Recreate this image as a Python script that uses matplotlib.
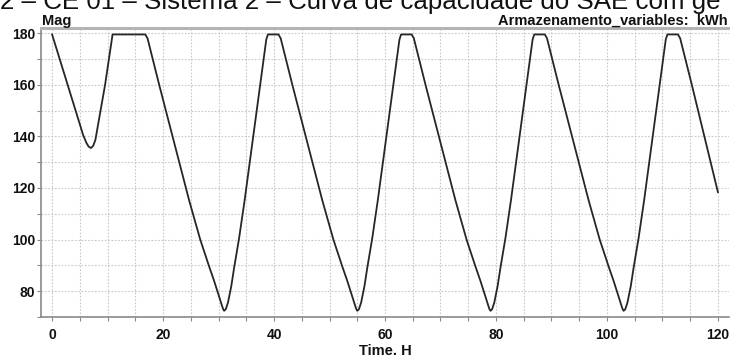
import matplotlib
matplotlib.use("Agg")
import matplotlib.pyplot as plt
from matplotlib.ticker import MultipleLocator

# Data (hours, kWh)
time_h = [0.0, 5.6, 6.2, 6.6, 7.0, 7.4, 7.8, 9.55, 10.9,
          16.8, 17.2, 19.3, 24.7, 26.7, 27.5, 28.3, 29.2, 30.0, 30.5, 30.8, 31.0, 31.3, 31.7, 32.3, 32.8, 33.7, 34.7, 38.6, 38.9,
          40.8, 41.2, 43.3, 48.7, 50.7, 51.5, 52.3, 53.2, 54.0, 54.5, 54.8, 55.0, 55.3, 55.7, 56.3, 56.8, 57.7, 58.7, 62.6, 62.9,
          64.8, 65.2, 67.3, 72.7, 74.7, 75.5, 76.3, 77.2, 78.0, 78.5, 78.8, 79.0, 79.3, 79.7, 80.3, 80.8, 81.7, 82.7, 86.6, 86.9,
          88.8, 89.2, 91.3, 96.7, 98.7, 99.5, 100.3, 101.2, 102.0, 102.5, 102.8, 103.0, 103.3, 103.7, 104.3, 104.8, 105.7, 106.7, 110.6, 110.9,
          112.8, 113.2, 115.3, 120.0]
energy_kwh = [179.5, 140.5, 137.4, 136.0, 135.5, 136.3, 138.6, 160.0, 179.5,
              179.5, 178.0, 160.0, 115.2, 100.0, 94.8, 89.6, 84.0, 78.6, 75.2, 73.2, 72.4, 73.0, 75.6, 82.0, 89.0, 100.5, 115.2, 177.5, 179.5,
              179.5, 178.0, 160.0, 115.2, 100.0, 94.8, 89.6, 84.0, 78.6, 75.2, 73.2, 72.4, 73.0, 75.6, 82.0, 89.0, 100.5, 115.2, 177.5, 179.5,
              179.5, 178.0, 160.0, 115.2, 100.0, 94.8, 89.6, 84.0, 78.6, 75.2, 73.2, 72.4, 73.0, 75.6, 82.0, 89.0, 100.5, 115.2, 177.5, 179.5,
              179.5, 178.0, 160.0, 115.2, 100.0, 94.8, 89.6, 84.0, 78.6, 75.2, 73.2, 72.4, 73.0, 75.6, 82.0, 89.0, 100.5, 115.2, 177.5, 179.5,
              179.5, 178.0, 160.0, 118.4]

x_ticks = [0, 20, 40, 60, 80, 100, 120]
y_ticks = [80, 100, 120, 140, 160, 180]

title_text = "2 \u2013 CE 01 \u2013 Sistema 2 \u2013 Curva de capacidade do SAE com ge"
y_title = "Mag"
unit_text = "Armazenamento_variables:  kWh"
x_title = "Time. H"

fam = ["Liberation Sans", "DejaVu Sans"]

fig = plt.figure(figsize=(7.30, 3.58), dpi=100)
ax = fig.add_axes([41/730, 41/358, 688/730, 289/358])

ax.plot(time_h, energy_kwh, color="#262626", lw=1.3)

ax.set_xlim(-2, 122)
ax.set_ylim(70, 182)
ax.set_xticks(x_ticks)
ax.set_yticks(y_ticks)
ax.xaxis.set_minor_locator(MultipleLocator(5))
ax.yaxis.set_minor_locator(MultipleLocator(10))
ax.grid(True, which="both", color="#c8c8c8", linestyle=(0, (1.5, 1.5)), lw=0.8)
ax.set_axisbelow(True)

for s in ["left", "bottom"]:
    ax.spines[s].set_color("#8a8a8a")
    ax.spines[s].set_linewidth(1.2)
ax.spines["top"].set_color("#b4b4b4")
ax.spines["top"].set_linewidth(2.2)
ax.spines["right"].set_visible(False)

ax.tick_params(which="both", direction="out", length=3, width=0.8, color="#8a8a8a")
ax.tick_params(axis="y", which="major", pad=1)
ax.tick_params(axis="x", which="major", pad=5)
for lab in ax.get_xticklabels() + ax.get_yticklabels():
    lab.set_fontfamily(fam)
    lab.set_fontweight("bold")
    lab.set_fontsize(10)
    lab.set_color("#111111")

fig.text(42/730, 1 - 25/358, y_title, fontfamily=fam, fontweight="bold",
         fontsize=10.5, ha="left", va="baseline", color="#111111")
fig.text(728/730, 1 - 25/358, unit_text, fontfamily=fam, fontweight="bold",
         fontsize=10.5, ha="right", va="baseline", color="#111111")
fig.text(385/730, 1 - 355/358, x_title, fontfamily=fam, fontweight="bold",
         fontsize=10.5, ha="center", va="baseline", color="#111111")
fig.text(0/730, 1 - 9/358, title_text, fontfamily=fam,
         fontsize=18.6, ha="left", va="baseline", color="#111111")

fig.savefig("out.png", dpi=100)
